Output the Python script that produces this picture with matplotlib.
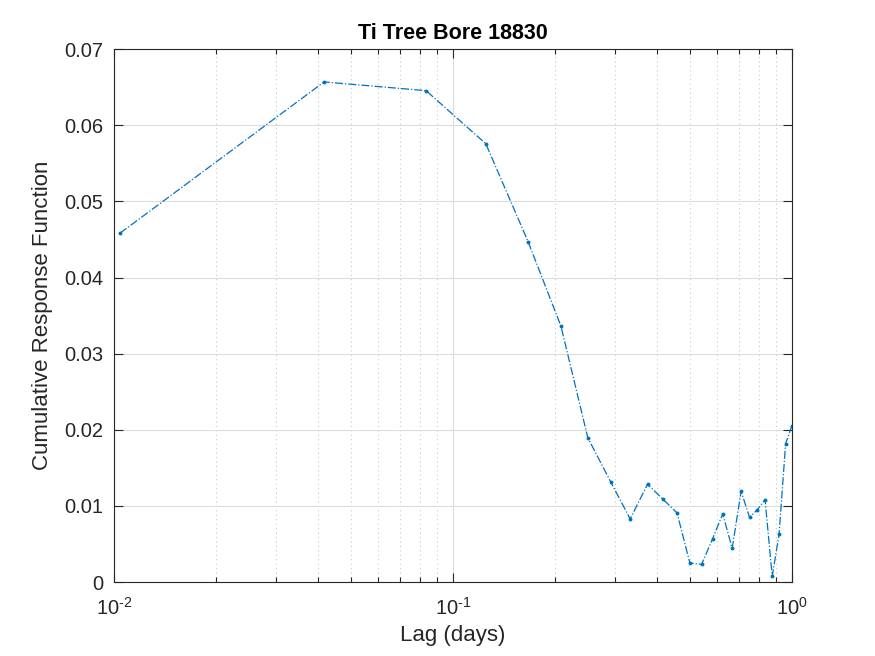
import numpy as np
import matplotlib
matplotlib.use('Agg')
import matplotlib.pyplot as plt
from matplotlib.ticker import LogLocator, NullFormatter, FuncFormatter

plt.rcParams['font.family'] = ['Liberation Sans', 'DejaVu Sans']
plt.rcParams['mathtext.fontset'] = 'custom'
plt.rcParams['mathtext.rm'] = 'Liberation Sans'
plt.rcParams['mathtext.it'] = 'Liberation Sans'
plt.rcParams['axes.unicode_minus'] = False

TEXT = '#262626'
LINE_COLOR = '#0072BD'

# lags in days (hourly lags, first one a quarter hour)
lag_hours = [0.25, 1, 2, 3, 4, 5, 6, 7, 8, 9, 10, 11, 12,
             13, 14, 15, 16, 17, 18, 19, 20, 21, 22, 23, 24]
response = [0.04583, 0.06570, 0.06455, 0.05758, 0.04470, 0.03360, 0.01895,
            0.01320, 0.00829, 0.01284, 0.01087, 0.00908, 0.00250, 0.00232,
            0.00566, 0.00895, 0.00442, 0.01192, 0.00850, 0.00951, 0.01083,
            0.00074, 0.00626, 0.01816, 0.02053]
lag_days = np.array(lag_hours) / 24.0


def pow10_label(x, pos):
    e = int(round(np.log10(x)))
    s = str(e).replace('-', '\u2010')
    return r'$\mathdefault{10^{' + s + '}}$'


fig = plt.figure(figsize=(8.75, 6.56), dpi=100)
ax = fig.add_axes([0.1303, 0.1128, 0.7747, 0.8122])

ax.plot(lag_days, response, linestyle='-.', color=LINE_COLOR, linewidth=0.9,
        marker='o', markersize=2.8, markeredgewidth=0)

ax.set_xscale('log')
ax.set_xlim(0.01, 1)
ax.set_ylim(0, 0.07)
ax.set_yticks(np.arange(0, 0.071, 0.01))
ax.set_yticklabels(['0', '0.01', '0.02', '0.03', '0.04', '0.05', '0.06', '0.07'])
ax.xaxis.set_major_locator(LogLocator(base=10, numticks=10))
ax.xaxis.set_major_formatter(FuncFormatter(pow10_label))
ax.xaxis.set_minor_locator(LogLocator(base=10, subs=np.arange(2, 10), numticks=10))
ax.xaxis.set_minor_formatter(NullFormatter())

ax.grid(True, which='major', color='#dcdcdc', linewidth=0.8, linestyle='-')
ax.grid(True, which='minor', axis='x', color='#c8c8c8', linewidth=0.8, linestyle=(0, (1, 3)))
ax.set_axisbelow(True)

ax.tick_params(which='both', direction='in', top=True, right=True, colors=TEXT,
               labelsize=14.5, width=0.8)
ax.tick_params(which='major', length=6.5, pad=8)
ax.tick_params(axis='x', which='major', pad=11)
ax.tick_params(which='minor', length=3.5)
for s in ax.spines.values():
    s.set_color(TEXT)
    s.set_linewidth(0.8)

ax.set_xlabel('Lag (days)', fontsize=16, color=TEXT, labelpad=4)
ax.set_ylabel('Cumulative Response Function', fontsize=16, color=TEXT, labelpad=8)
ax.set_title('Ti Tree Bore 18830', fontsize=15.5, fontweight='bold', color='black', pad=7)

fig.savefig('out.png', dpi=100)
